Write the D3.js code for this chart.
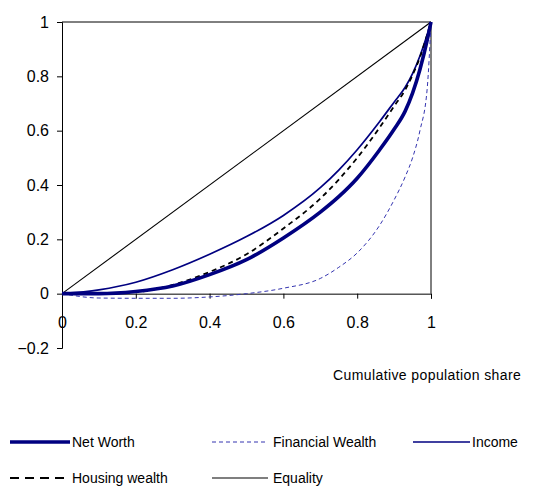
<!DOCTYPE html>
<html>
<head>
<meta charset="utf-8">
<script src="https://cdn.jsdelivr.net/npm/d3@7"></script>
<style>
  html, body { margin: 0; padding: 0; background: #fff; }
  svg { display: block; font-family: "Liberation Sans", Arial, sans-serif; }
</style>
</head>
<body>
<svg id="chart" width="547" height="487"></svg>
<script>
// ---- data ----
const popShare  = [0, 0.1, 0.2, 0.3, 0.4, 0.5, 0.6, 0.7, 0.75, 0.8, 0.86, 0.9, 0.93, 0.95, 0.97, 0.99, 1];
const netWorth  = [0, 0.0, 0.008, 0.028, 0.07, 0.125, 0.205, 0.3, 0.357, 0.425, 0.528, 0.605, 0.672, 0.738, 0.825, 0.935, 1];
const financial = [0, -0.016, -0.017, -0.017, -0.012, 0.0, 0.02, 0.056, 0.097, 0.15, 0.25, 0.345, 0.43, 0.5, 0.6, 0.76, 1];
const income    = [0, 0.014, 0.042, 0.088, 0.145, 0.21, 0.288, 0.39, 0.455, 0.53, 0.632, 0.705, 0.76, 0.81, 0.875, 0.955, 1];
const housing   = [0, 0.0, 0.006, 0.032, 0.08, 0.145, 0.24, 0.35, 0.42, 0.5, 0.61, 0.69, 0.75, 0.805, 0.87, 0.955, 1];
const equality  = [0, 1];
const equalityX = [0, 1];
const xTicks = [0, 0.2, 0.4, 0.6, 0.8, 1];
const yTicks = [-0.2, 0, 0.2, 0.4, 0.6, 0.8, 1];
const xTitle = "Cumulative population share";

const seriesNames = ["Net Worth", "Financial Wealth", "Income", "Housing wealth", "Equality"];

// ---- layout ----
const svg = d3.select("#chart");
const x = d3.scaleLinear().domain([0, 1]).range([62, 431]);
const y = d3.scaleLinear().domain([-0.2, 1]).range([348, 22]);

const styles = {
  "Net Worth":        { color: "#000080", width: 3.6, dash: null,  legendDash: null },
  "Financial Wealth": { color: "#3535b0", width: 1,   dash: "4,3", legendDash: "4,3" },
  "Income":           { color: "#000080", width: 1.7, dash: null,  legendDash: null },
  "Housing wealth":   { color: "#000000", width: 1.8, dash: "5,4", legendDash: "9,6" },
  "Equality":         { color: "#000000", width: 1.1, dash: null,  legendDash: null }
};

// plot frame (top & right)
svg.append("line").attr("x1", x(0)).attr("x2", x(1)).attr("y1", y(1)).attr("y2", y(1))
  .attr("stroke", "#000").attr("stroke-width", 1);
svg.append("line").attr("x1", x(1)).attr("x2", x(1)).attr("y1", y(1)).attr("y2", y(0))
  .attr("stroke", "#000").attr("stroke-width", 1);

// y axis
const fmt = d => d3.format("")(+d.toFixed(1));
const yAxis = svg.append("g").attr("transform", `translate(${x(0)},0)`)
  .call(d3.axisLeft(y).tickValues(yTicks).tickSize(5).tickPadding(8).tickFormat(fmt));
yAxis.select(".domain").attr("stroke", "#000");
yAxis.selectAll("text").attr("font-size", 16).attr("fill", "#000")
  .attr("font-family", "Liberation Sans, Arial, sans-serif");

// x axis at y=0
const xAxis = svg.append("g").attr("transform", `translate(0,${y(0)})`)
  .call(d3.axisBottom(x).tickValues(xTicks).tickSize(5).tickPadding(18).tickFormat(fmt));
xAxis.select(".domain").attr("stroke", "#000");
xAxis.selectAll("text").attr("font-size", 16).attr("fill", "#000")
  .attr("font-family", "Liberation Sans, Arial, sans-serif");

// x title
svg.append("text").attr("x", 333).attr("y", 380)
  .attr("font-size", 14).attr("letter-spacing", 0.4).attr("fill", "#000")
  .text(xTitle);

// lines
const line = d3.line().x(d => x(d[0])).y(d => y(d[1])).curve(d3.curveMonotoneX);
const seriesData = {
  "Equality": d3.zip(equalityX, equality),
  "Financial Wealth": d3.zip(popShare, financial),
  "Housing wealth": d3.zip(popShare, housing),
  "Income": d3.zip(popShare, income),
  "Net Worth": d3.zip(popShare, netWorth)
};
["Equality", "Financial Wealth", "Income", "Housing wealth", "Net Worth"].forEach(name => {
  const s = styles[name];
  svg.append("path").datum(seriesData[name])
    .attr("d", line)
    .attr("fill", "none")
    .attr("stroke", s.color)
    .attr("stroke-width", s.width)
    .attr("stroke-dasharray", s.dash)
    .attr("stroke-linejoin", "round");
});

// legend
const legendPos = [
  { x1: 10, x2: 70, ly: 442, tx: 72 },
  { x1: 212, x2: 268, ly: 442, tx: 273 },
  { x1: 413, x2: 470, ly: 442, tx: 472 },
  { x1: 10, x2: 68, ly: 478, tx: 72 },
  { x1: 212, x2: 268, ly: 478, tx: 273 }
];
seriesNames.forEach((name, i) => {
  const p = legendPos[i], s = styles[name];
  svg.append("line").attr("x1", p.x1).attr("x2", p.x2).attr("y1", p.ly).attr("y2", p.ly)
    .attr("stroke", s.color).attr("stroke-width", s.width)
    .attr("stroke-dasharray", s.legendDash);
  svg.append("text").attr("x", p.tx).attr("y", p.ly + 5)
    .attr("font-size", 14).attr("fill", "#000").text(name);
});
</script>
</body>
</html>
